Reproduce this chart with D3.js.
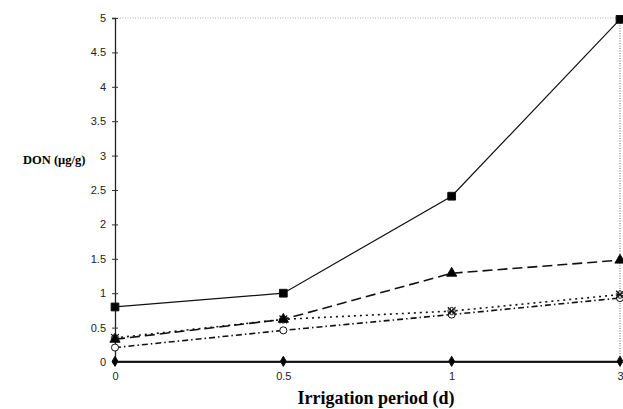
<!DOCTYPE html>
<html><head><meta charset="utf-8">
<script src="https://cdn.jsdelivr.net/npm/d3@7"></script>
<style>body{margin:0;background:#fff}</style>
</head><body><svg id="c" width="623" height="409"></svg>
<script>
const categories = ["0","0.5","1","3"];
const yTicks = [0,0.5,1,1.5,2,2.5,3,3.5,4,4.5,5];
const seriesSquare = [0.80, 1.00, 2.41, 4.98];
const seriesTriangle = [0.33, 0.62, 1.29, 1.48];
const seriesCross = [0.35, 0.62, 0.74, 0.98];
const seriesCircle = [0.21, 0.46, 0.69, 0.93];
const seriesDiamond = [0.01, 0.01, 0.01, 0.01];

const svg = d3.select("#c");
const x = d3.scalePoint().domain(categories).range([115, 620]);
const y = d3.scaleLinear().domain([0,5]).range([362, 18]);

svg.append("line").attr("x1", x("0")).attr("x2", x("3")).attr("y1", y(5)).attr("y2", y(5))
  .attr("stroke","#aaa").attr("stroke-width",1).attr("stroke-dasharray","1,1.5");
svg.append("line").attr("x1", x("3")).attr("x2", x("3")).attr("y1", y(5)).attr("y2", y(0))
  .attr("stroke","#666").attr("stroke-width",1).attr("stroke-dasharray","1,1.5");

const ya = svg.append("g").attr("transform",`translate(${x("0")},0)`)
  .call(d3.axisLeft(y).tickValues(yTicks).tickFormat(d=>String(d)).tickSize(3).tickPadding(6));
ya.select(".domain").attr("stroke","#222").attr("stroke-width",1.3);
ya.selectAll(".tick line").attr("stroke","#333").attr("x2",3).attr("x1",-3);
ya.selectAll("text").attr("font-family","Liberation Sans, Arial, sans-serif").attr("font-size",11).attr("fill","#222");

const xa = svg.append("g").attr("transform",`translate(0,${y(0)})`)
  .call(d3.axisBottom(x).tickSize(0).tickPadding(10));
xa.select(".domain").attr("stroke","#222").attr("stroke-width",1.2);
xa.selectAll("text").attr("font-family","Liberation Sans, Arial, sans-serif").attr("font-size",11).attr("fill","#222");

svg.append("text").attr("x",376).attr("y",404).attr("text-anchor","middle")
  .attr("font-family","Liberation Serif, Times New Roman, serif").attr("font-weight","bold").attr("font-size",18)
  .text("Irrigation period (d)");
svg.append("text").attr("x",23).attr("y",164)
  .attr("font-family","Liberation Serif, Times New Roman, serif").attr("font-weight","bold").attr("font-size",12.5)
  .text("DON (µg/g)");

const line = d3.line().x((d,i)=>x(categories[i])).y(d=>y(d));
const series = [
  {v: seriesDiamond, dash: null, sym: d3.symbolDiamond, size: 30, fill:"#000"},
  {v: seriesCircle, dash: "6,3,1.5,3", sym: d3.symbolCircle, size: 40, fill:"#fff"},
  {v: seriesCross, dash: "2,4", sym: d3.symbolCross, size: 40, fill:"none", cross:true},
  {v: seriesTriangle, dash: "10,5", sym: d3.symbolTriangle, size: 45, fill:"#000"},
  {v: seriesSquare, dash: null, sym: d3.symbolSquare, size: 60, fill:"#000"}
];
series.forEach(s=>{
  svg.append("path").attr("d", line(s.v)).attr("fill","none").attr("stroke","#111")
    .attr("stroke-width", s.dash ? 1.6 : 1.2).attr("stroke-dasharray", s.dash);
  s.v.forEach((d,i)=>{
    const g = svg.append("g").attr("transform",`translate(${x(categories[i])},${y(d)})`);
    if (s.cross) {
      g.append("path").attr("d", d3.symbol(d3.symbolX, 40)()).attr("fill","none").attr("stroke","#111").attr("stroke-width",1.3);
      g.append("path").attr("d", d3.symbol(d3.symbolCross, 30)()).attr("fill","none").attr("stroke","#111").attr("stroke-width",0.8);
    } else {
      g.append("path").attr("d", d3.symbol(s.sym, s.size)()).attr("fill", s.fill).attr("stroke","#111").attr("stroke-width",1);
    }
  });
});
</script></body></html>
